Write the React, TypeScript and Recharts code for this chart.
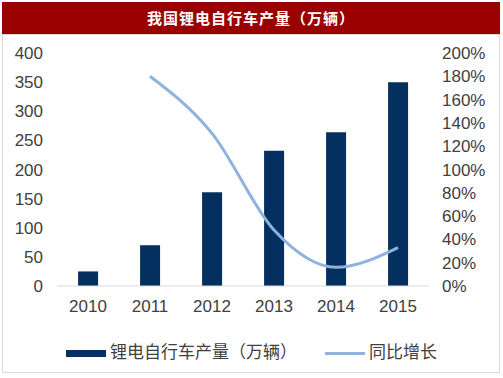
import { Bar, ComposedChart, Legend, Line, XAxis, YAxis } from "recharts"

// 年份
const years = ["2010", "2011", "2012", "2013", "2014", "2015"]
// 锂电自行车产量（万辆）
const output = [25, 70, 161, 232, 264, 350]
// 同比增长（%）
const growth = [null, 180, 131, 48, 16, 33]
const leftTicks = [0, 50, 100, 150, 200, 250, 300, 350, 400]
const rightTicks = [0, 20, 40, 60, 80, 100, 120, 140, 160, 180, 200]

const data = years.map((year, i) => ({ year, output: output[i], growth: growth[i] }))

const FONT = '"Liberation Sans", Arial, "Noto Sans CJK SC", sans-serif'
const BAR = "#03305f"
const LINE = "#8eb3de"

function LegendContent() {
    return (
        <div style={{ position: "relative", height: 24, fontSize: 17, color: "#404040", fontFamily: FONT }}>
            <div style={{ position: "absolute", left: 66, top: 10, width: 40, height: 7, background: BAR }} />
            <div style={{ position: "absolute", left: 110, top: 0, whiteSpace: "nowrap", lineHeight: "26px" }}>
                锂电自行车产量（万辆）
            </div>
            <div style={{ position: "absolute", left: 325, top: 12, width: 40, height: 3, background: LINE }} />
            <div style={{ position: "absolute", left: 369, top: 0, whiteSpace: "nowrap", lineHeight: "26px" }}>
                同比增长
            </div>
        </div>
    )
}

export default function App() {
    return (
        <div style={{ position: "absolute", left: 0, top: 0, width: 503, height: 378, background: "#fff", fontFamily: FONT }}>
            <div
                style={{
                    position: "absolute",
                    left: 2,
                    top: 34,
                    width: 496,
                    height: 337,
                    border: "1px solid #d9d9d9",
                }}
            />
            <div
                style={{
                    position: "absolute",
                    left: 2,
                    top: 2,
                    width: 498,
                    height: 32,
                    background: "#9b0000",
                    color: "#fff",
                    fontWeight: "bold",
                    fontSize: 15,
                    letterSpacing: 1,
                    textAlign: "center",
                    lineHeight: "32px",
                    fontFamily: '"Noto Sans CJK SC", sans-serif',
                }}
            >
                我国锂电自行车产量（万辆）
            </div>
            <ComposedChart
                width={503}
                height={378}
                data={data}
                margin={{ top: 53, right: 0, bottom: 36, left: 0 }}
                barCategoryGap="34%"
            >
                <XAxis
                    dataKey="year"
                    tickLine={false}
                    axisLine={{ stroke: "#d9d9d9" }}
                    tick={{ fill: "#404040", fontSize: 17 }}
                    tickMargin={8}
                    height={32}
                />
                <YAxis
                    yAxisId="left"
                    width={57}
                    domain={[0, 400]}
                    ticks={leftTicks}
                    tickLine={false}
                    axisLine={false}
                    tick={{ fill: "#404040", fontSize: 17 }}
                    tickMargin={8}
                    interval={0}
                />
                <YAxis
                    yAxisId="right"
                    orientation="right"
                    width={74}
                    domain={[0, 200]}
                    ticks={rightTicks}
                    tickFormatter={(v) => `${v}%`}
                    tickLine={false}
                    axisLine={false}
                    tick={{ fill: "#404040", fontSize: 17, textAnchor: "start" }}
                    tickMargin={7}
                    interval={0}
                />
                <Bar yAxisId="left" dataKey="output" fill={BAR} isAnimationActive={false} />
                <Line
                    yAxisId="right"
                    type="monotone"
                    dataKey="growth"
                    stroke={LINE}
                    strokeWidth={3}
                    dot={false}
                    activeDot={false}
                    isAnimationActive={false}
                />
                <Legend verticalAlign="bottom" content={<LegendContent />} wrapperStyle={{ left: 0, width: 503, bottom: 14 }} />
            </ComposedChart>
        </div>
    )
}
